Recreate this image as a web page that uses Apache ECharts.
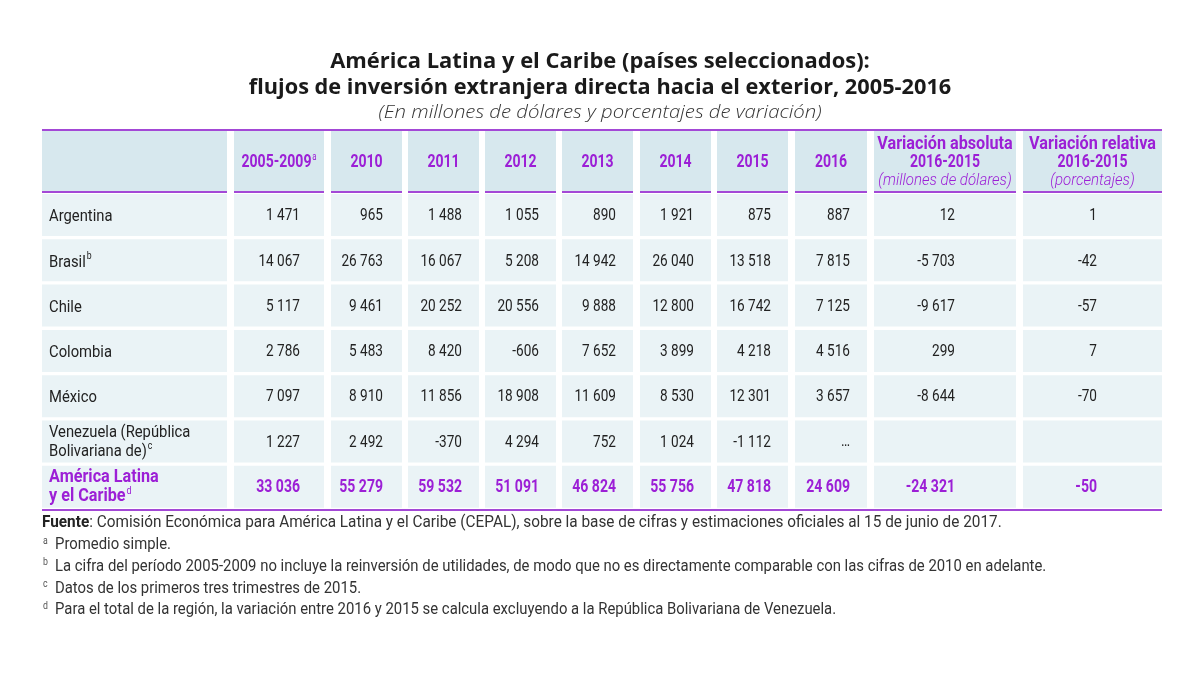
<!DOCTYPE html>
<html><head><meta charset="utf-8">
<script src="https://cdn.jsdelivr.net/npm/echarts@6/dist/echarts.min.js"></script>
<style>html,body{margin:0;padding:0;background:#fff}#c{width:1200px;height:675px}</style>
</head><body><div id="c"></div>
<script>
// ---- DATA ----
var titleLines = ['América Latina y el Caribe (países seleccionados):', 'flujos de inversión extranjera directa hacia el exterior, 2005-2016'];
var subtitle = '(En millones de dólares y porcentajes de variación)';
var columnHeaders = ['2005-2009', '2010', '2011', '2012', '2013', '2014', '2015', '2016'];
var columnHeaderSup = ['a', '', '', '', '', '', '', ''];
var varAbsHeader = ['Variación absoluta', '2016-2015', '(millones de dólares)'];
var varRelHeader = ['Variación relativa', '2016-2015', '(porcentajes)'];
var countries = [['Argentina'], ['Brasil'], ['Chile'], ['Colombia'], ['México'], ['Venezuela (República', 'Bolivariana de)'], ['América Latina', 'y el Caribe']];
var countrySup = ['', 'b', '', '', '', 'c', 'd'];
var p2005_2009 = [1471, 14067, 5117, 2786, 7097, 1227, 33036];
var y2010 = [965, 26763, 9461, 5483, 8910, 2492, 55279];
var y2011 = [1488, 16067, 20252, 8420, 11856, -370, 59532];
var y2012 = [1055, 5208, 20556, -606, 18908, 4294, 51091];
var y2013 = [890, 14942, 9888, 7652, 11609, 752, 46824];
var y2014 = [1921, 26040, 12800, 3899, 8530, 1024, 55756];
var y2015 = [875, 13518, 16742, 4218, 12301, -1112, 47818];
var y2016 = [887, 7815, 7125, 4516, 3657, '…', 24609];
var varAbs = [12, -5703, -9617, 299, -8644, '', -24321];
var varRel = [1, -42, -57, 7, -70, '', -50];
var sourceLabel = 'Fuente';
var sourceText = ': Comisión Económica para América Latina y el Caribe (CEPAL), sobre la base de cifras y estimaciones oficiales al 15 de junio de 2017.';
var noteMarks = ['a', 'b', 'c', 'd'];
var notes = ['Promedio simple.',
  'La cifra del período 2005-2009 no incluye la reinversión de utilidades, de modo que no es directamente comparable con las cifras de 2010 en adelante.',
  'Datos de los primeros tres trimestres de 2015.',
  'Para el total de la región, la variación entre 2016 y 2015 se calcula excluyendo a la República Bolivariana de Venezuela.'];

// ---- LAYOUT / STYLE ----
var FONT = 'Roboto, sans-serif';
var TFONT = '"Open Sans", Lato, sans-serif';
var PURPLE = '#9c1fd6', LINE = '#a348d6', HEAD_BG = '#d7e8ee', CELL_BG = '#eaf3f6', TXT = '#222';
var cols = [[42,227],[234,324],[331,402],[408,479],[485,556],[562,633],[640,711],[717,788],[795,867],[874,1016],[1023,1162]];
var headTop = 131, headBot = 191, rowTop0 = 194, rowPitch = 45.3, rowH = 42;
var valueCols = [p2005_2009, y2010, y2011, y2012, y2013, y2014, y2015, y2016, varAbs, varRel];
var SX_TXT = 0.87, SX_NUM = 0.8, SX_BOLD = 0.9, SX_BOLDNUM = 0.78, SX_SRC = 0.902, SX_FOOT = 0.875;

function fmt(v) {
  if (typeof v !== 'number') return v;
  var s = Math.abs(v).toString().replace(/\B(?=(\d{3})+(?!\d))/g, ' ');
  return (v < 0 ? '-' : '') + s;
}

var g = [];
function text(x, y, str, o, sx) {
  o = o || {};
  g.push({type: 'text', x: x, y: y, scaleX: sx || 1, z: 10, style: Object.assign({
    text: str, fill: TXT, font: '17px ' + FONT, textAlign: 'left', textVerticalAlign: 'middle'
  }, o)});
}
function rect(x, y, w, h, fill) {
  g.push({type: 'rect', shape: {x: x, y: y, width: w, height: h}, style: {fill: fill}, z: 1});
}

// Title
text(600, 62, titleLines[0], {font: 'bold 21px ' + TFONT, fill: '#1a1a1a', textAlign: 'center'}, 1.045);
text(600, 88, titleLines[1], {font: 'bold 21px ' + TFONT, fill: '#1a1a1a', textAlign: 'center'}, 1.035);
text(600, 113, subtitle, {font: 'italic 300 19px ' + TFONT, fill: '#333', textAlign: 'center'}, 1.07);

// Header cells
cols.forEach(function (c) {
  rect(c[0], headTop, c[1] - c[0], headBot - headTop, HEAD_BG);
  g.push({type: 'rect', shape: {x: c[0], y: headBot, width: c[1] - c[0], height: 2}, style: {fill: LINE}, z: 3});
});
g.push({type: 'rect', shape: {x: 42, y: 129, width: 1120, height: 2}, style: {fill: LINE}, z: 3});
g.push({type: 'rect', shape: {x: 42, y: 509, width: 1120, height: 2}, style: {fill: LINE}, z: 3});

var hc = (headTop + headBot) / 2 + 1;
columnHeaders.forEach(function (h, j) {
  var c = cols[j + 1], cx = (c[0] + c[1]) / 2;
  g.push({type: 'text', x: cx, y: hc, scaleX: SX_BOLDNUM, z: 10, style: {
    text: '{m|' + h + '}' + (columnHeaderSup[j] ? '{s|' + columnHeaderSup[j] + '}' : ''),
    textAlign: 'center', textVerticalAlign: 'middle',
    rich: {m: {font: 'bold 18px ' + FONT, fill: PURPLE, lineHeight: 19, verticalAlign: 'bottom'},
           s: {font: '10px ' + FONT, fill: PURPLE, lineHeight: 19, verticalAlign: 'top', padding: [0,0,7,1]}}
  }});
});
[varAbsHeader, varRelHeader].forEach(function (hh, k) {
  var c = cols[9 + k], cx = (c[0] + c[1]) / 2;
  text(cx, 144, hh[0], {font: 'bold 18px ' + FONT, fill: PURPLE, textAlign: 'center'}, SX_BOLD);
  text(cx, 162, hh[1], {font: 'bold 18px ' + FONT, fill: PURPLE, textAlign: 'center'}, SX_BOLDNUM);
  text(cx, 181, hh[2], {font: 'italic 300 17px ' + FONT, fill: PURPLE, textAlign: 'center'}, 0.885);
});

// Body
var rightPad = [24, 19, 17, 17, 17, 17, 17, 17];
countries.forEach(function (name, i) {
  var top = rowTop0 + i * rowPitch, cy = top + rowH / 2;
  var isTotal = i === countries.length - 1;
  cols.forEach(function (c) { rect(c[0], top, c[1] - c[0], rowH, CELL_BG); });
  var lblFont = isTotal ? 'bold 18px ' + FONT : '17px ' + FONT;
  var lblFill = isTotal ? PURPLE : TXT;
  var lines = name.map(function (l, k) {
    var s = '{m|' + l + '}';
    if (k === name.length - 1 && countrySup[i]) s += '{s|' + countrySup[i] + '}';
    return s;
  }).join('\n');
  g.push({type: 'text', x: 49, y: cy + (name.length > 1 ? 0 : 1), scaleX: isTotal ? SX_BOLD : SX_TXT, z: 10, style: {
    text: lines, textAlign: 'left', textVerticalAlign: 'middle',
    rich: {m: {font: lblFont, fill: lblFill, lineHeight: 19, verticalAlign: 'bottom'},
           s: {font: '10px ' + FONT, fill: lblFill, lineHeight: 19, verticalAlign: 'top', padding: [0,0,6,1]}}
  }});
  var vFont = isTotal ? 'bold 18px ' + FONT : '17px ' + FONT;
  valueCols.forEach(function (arr, j) {
    var c = cols[j + 1], v = arr[i];
    if (v === '' || v == null) return;
    var x;
    if (j < 8) x = c[1] - rightPad[j];
    else if (j === 8) x = 955; else x = 1097;
    var ty = cy + 1;
    if (v === '…') ty = cy;
    text(x, ty, fmt(v), {font: vFont, fill: isTotal ? PURPLE : TXT, textAlign: 'right'}, isTotal ? SX_BOLDNUM : SX_NUM);
  });
});

// Footnotes
g.push({type: 'text', x: 42, y: 523, scaleX: SX_SRC, z: 10, style: {
  text: '{b|' + sourceLabel + '}{n|' + sourceText + '}', textAlign: 'left', textVerticalAlign: 'middle',
  rich: {b: {font: 'bold 17px ' + FONT, fill: '#222'}, n: {font: '17px ' + FONT, fill: '#333'}}
}});
notes.forEach(function (n, k) {
  var y = 545 + k * 21.7;
  text(43, y - 4, noteMarks[k], {font: '10px ' + FONT, fill: '#555'}, SX_FOOT);
  text(55, y, n, {font: '17px ' + FONT, fill: '#333'}, SX_FOOT);
});

var chart = echarts.init(document.getElementById('c'), null, {renderer: 'canvas'});
chart.setOption({backgroundColor: '#fff', animation: false, graphic: {elements: g}});
</script></body></html>
